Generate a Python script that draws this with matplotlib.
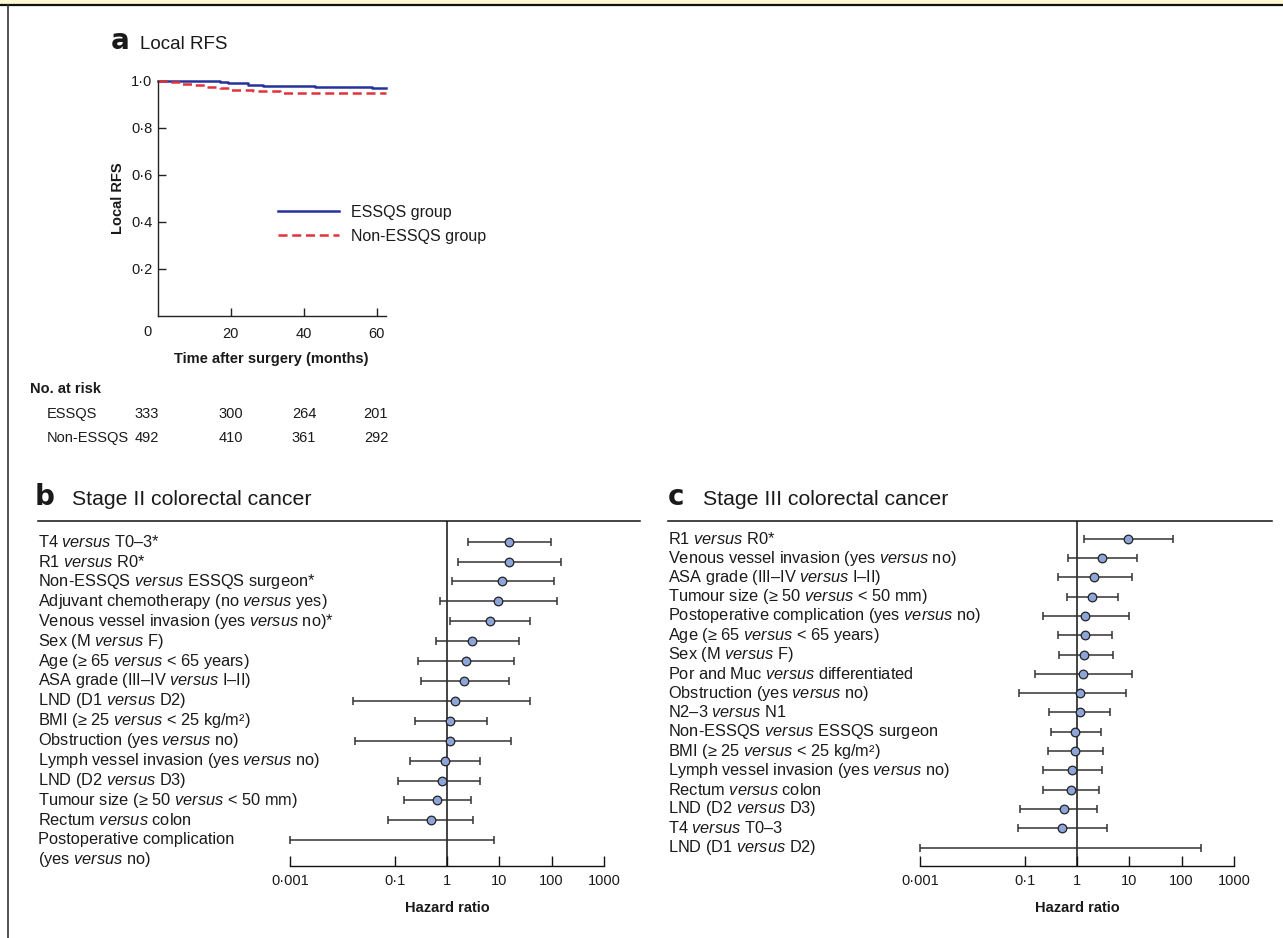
import matplotlib
matplotlib.use('Agg')
import matplotlib.pyplot as plt
from matplotlib.lines import Line2D
from matplotlib.patches import Rectangle
import matplotlib.transforms as mtransforms
import numpy as np

plt.rcParams['font.family'] = ['Liberation Sans', 'DejaVu Sans']
plt.rcParams['mathtext.fontset'] = 'custom'
plt.rcParams['mathtext.rm'] = 'Liberation Sans'
plt.rcParams['mathtext.it'] = 'Liberation Sans:italic'
plt.rcParams['mathtext.bf'] = 'Liberation Sans:bold'

# ---------------- data ----------------
# Panel a: Kaplan-Meier local RFS (step curves)
essqs_time = [0, 5.6, 17, 19.3, 24.8, 28.9, 43, 58.6, 62.5]
essqs_surv = [1.0, 0.997, 0.993, 0.989, 0.982, 0.977, 0.973, 0.969, 0.969]
non_time = [0, 2.5, 6.1, 9.8, 13, 17, 19.8, 26.2, 33.5, 62.5]
non_surv = [1.0, 0.996, 0.987, 0.980, 0.974, 0.967, 0.962, 0.958, 0.949, 0.949]
km_xticks = [20, 40, 60]
km_yticks = [0.2, 0.4, 0.6, 0.8, 1.0]
km_ytick_labels = ['0·2', '0·4', '0·6', '0·8', '1·0']

risk_months = [0, 20, 40, 60]
risk_essqs = [333, 300, 264, 201]
risk_non = [492, 410, 361, 292]

# Panel b: Stage II colorectal cancer
stage2_labels = [
    r'T4 $\mathit{versus}$ T0–3*',
    r'R1 $\mathit{versus}$ R0*',
    r'Non-ESSQS $\mathit{versus}$ ESSQS surgeon*',
    r'Adjuvant chemotherapy (no $\mathit{versus}$ yes)',
    r'Venous vessel invasion (yes $\mathit{versus}$ no)*',
    r'Sex (M $\mathit{versus}$ F)',
    r'Age (≥ 65 $\mathit{versus}$ < 65 years)',
    r'ASA grade (III–IV $\mathit{versus}$ I–II)',
    r'LND (D1 $\mathit{versus}$ D2)',
    r'BMI (≥ 25 $\mathit{versus}$ < 25 kg/m²)',
    r'Obstruction (yes $\mathit{versus}$ no)',
    r'Lymph vessel invasion (yes $\mathit{versus}$ no)',
    r'LND (D2 $\mathit{versus}$ D3)',
    r'Tumour size (≥ 50 $\mathit{versus}$ < 50 mm)',
    r'Rectum $\mathit{versus}$ colon',
    'Postoperative complication\n' + r'(yes $\mathit{versus}$ no)',
]
stage2_hr = [15.3, 15.3, 11.4, 9.4, 6.6, 2.97, 2.31, 2.14, 1.42, 1.16, 1.12, 0.92, 0.81, 0.65, 0.49, np.nan]
stage2_lo = [2.56, 1.6, 1.23, 0.73, 1.14, 0.62, 0.275, 0.318, 0.016, 0.245, 0.0174, 0.2, 0.115, 0.15, 0.073, 0.001]
stage2_hi = [97, 152, 112, 126, 39, 23.8, 19.4, 15.3, 38, 5.7, 17, 4.3, 4.2, 2.9, 3.2, 7.9]

# Panel c: Stage III colorectal cancer
stage3_labels = [
    r'R1 $\mathit{versus}$ R0*',
    r'Venous vessel invasion (yes $\mathit{versus}$ no)',
    r'ASA grade (III–IV $\mathit{versus}$ I–II)',
    r'Tumour size (≥ 50 $\mathit{versus}$ < 50 mm)',
    r'Postoperative complication (yes $\mathit{versus}$ no)',
    r'Age (≥ 65 $\mathit{versus}$ < 65 years)',
    r'Sex (M $\mathit{versus}$ F)',
    r'Por and Muc $\mathit{versus}$ differentiated',
    r'Obstruction (yes $\mathit{versus}$ no)',
    r'N2–3 $\mathit{versus}$ N1',
    r'Non-ESSQS $\mathit{versus}$ ESSQS surgeon',
    r'BMI (≥ 25 $\mathit{versus}$ < 25 kg/m²)',
    r'Lymph vessel invasion (yes $\mathit{versus}$ no)',
    r'Rectum $\mathit{versus}$ colon',
    r'LND (D2 $\mathit{versus}$ D3)',
    r'T4 $\mathit{versus}$ T0–3',
    r'LND (D1 $\mathit{versus}$ D2)',
]
stage3_hr = [9.6, 3.05, 2.11, 1.96, 1.44, 1.42, 1.38, 1.32, 1.14, 1.14, 0.93, 0.92, 0.81, 0.76, 0.57, 0.52, np.nan]
stage3_lo = [1.36, 0.67, 0.43, 0.65, 0.224, 0.43, 0.45, 0.158, 0.077, 0.295, 0.32, 0.275, 0.224, 0.22, 0.081, 0.074, 0.001]
stage3_hi = [67, 13.8, 11.1, 6.2, 9.7, 4.67, 4.9, 11.4, 8.6, 4.3, 2.9, 3.14, 3.05, 2.6, 2.44, 3.8, 234]

hr_ticks = [0.001, 0.1, 1, 10, 100, 1000]
hr_tick_labels = ['0·001', '0·1', '1', '10', '100', '1000']

# ---------------- figure ----------------
W, H = 1283, 938
fig = plt.figure(figsize=(W / 100, H / 100), dpi=100)


def fx(x):
    return x / W


def fy(y):
    return 1 - y / H


def box(l, t, r, b):
    return [l / W, 1 - b / H, (r - l) / W, (b - t) / H]


TXT = '#1a1a1a'

# page decorations
fig.add_artist(Rectangle((0, fy(4.5)), 1, 4.5 / H, transform=fig.transFigure,
                         facecolor='#fdf7d2', edgecolor='none'))
fig.add_artist(Line2D([0, 1], [fy(5.5), fy(5.5)], transform=fig.transFigure,
                      color='#111', lw=1.6))
fig.add_artist(Line2D([fx(7.5), fx(7.5)], [fy(5.5), 0], transform=fig.transFigure,
                      color='#333', lw=1.2))

# ---------------- panel a ----------------
axa = fig.add_axes(box(157.7, 80.7, 386, 316))
l1, = axa.step(essqs_time, essqs_surv, where='post', color='#26329a', lw=1.8,
               clip_on=False, label='ESSQS group')
l2, = axa.step(non_time, non_surv, where='post', color='#e0323a', lw=1.8,
               ls=(0, (3.6, 1.9)), clip_on=False, label='Non-ESSQS group')
axa.set_xlim(0, 62.5)
axa.set_ylim(0, 1.0)
for s in ['top', 'right']:
    axa.spines[s].set_visible(False)
for s in ['left', 'bottom']:
    axa.spines[s].set_linewidth(1.0)
    axa.spines[s].set_color('#222')
axa.set_xticks(km_xticks)
axa.set_xticklabels([str(v) for v in km_xticks])
axa.set_yticks(km_yticks)
axa.set_yticklabels(km_ytick_labels)
axa.tick_params(axis='both', direction='in', length=6, width=1.0, color='#222',
                labelsize=10.5, labelcolor=TXT)
axa.tick_params(axis='x', pad=8)
axa.tick_params(axis='y', pad=4)
fig.text(fx(147), fy(332), '0', ha='center', va='center', fontsize=10.5, color=TXT)
axa.set_ylabel('Local RFS', fontsize=10.5, fontweight='bold', color=TXT, labelpad=4)
fig.text(fx(271), fy(359), 'Time after surgery (months)', ha='center', va='center',
         fontsize=10.5, fontweight='bold', color=TXT)
axa.legend(handles=[l1, l2], loc='upper left', bbox_to_anchor=(fx(278), fy(205)),
           bbox_transform=fig.transFigure, frameon=False, fontsize=11.5,
           handlelength=3.8, handletextpad=0.8, labelspacing=0.55,
           borderpad=0, borderaxespad=0, labelcolor=TXT)

fig.text(fx(111), fy(49), 'a', fontsize=20, fontweight='bold', family='DejaVu Sans',
         ha='left', va='baseline', color=TXT)
fig.text(fx(140), fy(49), 'Local RFS', fontsize=13.5, ha='left', va='baseline', color=TXT)

# number at risk
risk_x = [147, 231, 304, 376]
fig.text(fx(30), fy(389), 'No. at risk', fontsize=10.5, fontweight='bold',
         ha='left', va='center', color=TXT)
fig.text(fx(47), fy(414), 'ESSQS', fontsize=10.5, ha='left', va='center', color=TXT)
fig.text(fx(47), fy(438), 'Non-ESSQS', fontsize=10.5, ha='left', va='center', color=TXT)
for xpx, m, n1, n2 in zip(risk_x, risk_months, risk_essqs, risk_non):
    fig.text(fx(xpx), fy(414), str(n1), fontsize=10.5, ha='center', va='center', color=TXT)
    fig.text(fx(xpx), fy(438), str(n2), fontsize=10.5, ha='center', va='center', color=TXT)


# ---------------- forest plots ----------------
def forest(ax_l, ax_r, top, bottom, row0, step, labels, hr, lo, hi,
           label_x, line_x0, line_x1, letter, title, letter_x, title_x):
    ax = fig.add_axes(box(ax_l, top, ax_r, bottom))
    n = len(labels)
    rows = np.arange(n)
    ax.set_xscale('log')
    ax.set_xlim(hr_ticks[0], hr_ticks[-1])
    ax.set_ylim((bottom - row0) / step, (top - row0) / step)
    ax.axvline(1, color='#111', lw=1.1, zorder=1)
    ax.hlines(rows, lo, hi, color='#333', lw=1.1, zorder=2, clip_on=False)
    ax.plot(lo, rows, ls='none', marker='|', ms=6, mew=1.1, color='#333', clip_on=False)
    ax.plot(hi, rows, ls='none', marker='|', ms=6, mew=1.1, color='#333', clip_on=False)
    ax.plot(hr, rows, ls='none', marker='o', ms=6.2, mfc='#8da5d8', mec='#222',
            mew=0.9, zorder=3, clip_on=False)
    for s in ['top', 'right', 'left']:
        ax.spines[s].set_visible(False)
    ax.spines['bottom'].set_linewidth(1.0)
    ax.spines['bottom'].set_color('#111')
    ax.set_yticks([])
    ax.set_xticks(hr_ticks)
    ax.set_xticklabels(hr_tick_labels)
    ax.minorticks_off()
    ax.tick_params(axis='x', direction='in', length=7, width=1.0, color='#111',
                   labelsize=10.5, labelcolor=TXT, pad=6)
    ax.set_xlabel('Hazard ratio', fontsize=10.5, fontweight='bold', color=TXT, labelpad=9)
    trans = mtransforms.blended_transform_factory(fig.transFigure, ax.transData)
    for i, lab in enumerate(labels):
        yy = i
        if '\n' in lab:
            yy = i + 0.5
        ax.text(fx(label_x), yy, lab, transform=trans, ha='left', va='center',
                fontsize=11.8, color=TXT, clip_on=False, linespacing=1.2)
    fig.add_artist(Line2D([fx(line_x0), fx(line_x1)], [fy(top), fy(top)],
                          transform=fig.transFigure, color='#111', lw=1.1))
    fig.text(fx(letter_x), fy(505), letter, fontsize=20, fontweight='bold',
             family='DejaVu Sans', ha='left', va='baseline', color=TXT)
    fig.text(fx(title_x), fy(505), title, fontsize=15.3, ha='left', va='baseline', color=TXT)
    return ax


forest(290, 604, 521, 866, 541.7, 19.9, stage2_labels, stage2_hr, stage2_lo, stage2_hi,
       38, 38, 640, 'b', 'Stage II colorectal cancer', 35, 72)
forest(920, 1234, 521, 866, 538.7, 19.3, stage3_labels, stage3_hr, stage3_lo, stage3_hi,
       668, 668, 1272, 'c', 'Stage III colorectal cancer', 668, 703)

fig.savefig('out.png', dpi=100)
